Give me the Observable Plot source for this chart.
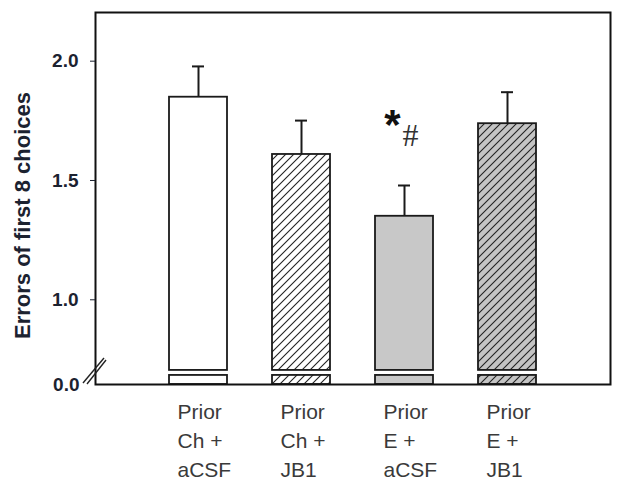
<!DOCTYPE html>
<html><head><meta charset="utf-8">
<script src="https://cdn.jsdelivr.net/npm/d3@7"></script>
<script src="https://cdn.jsdelivr.net/npm/@observablehq/plot@0.6"></script>
<style>body{margin:0;background:#fff;} svg{display:block;}</style>
</head><body><div id="chart"></div>
<script>
// ---- data ----
const groups = ["Prior Ch + aCSF", "Prior Ch + JB1", "Prior E + aCSF", "Prior E + JB1"];
const groupLabels = ["Prior\nCh +\naCSF", "Prior\nCh +\nJB1", "Prior\nE +\naCSF", "Prior\nE +\nJB1"];
const means = [1.849, 1.609, 1.35, 1.738];
const sems = [0.129, 0.142, 0.129, 0.132];
const yTicks = [1.0, 1.5, 2.0];
const yTitle = "Errors of first 8 choices";
const sigGroup = "Prior E + aCSF";
const sigSymbols = ["*", "#"];

// ---- broken-axis styling constants ----
const yBase = 0.645;    // where "0.0" is drawn
const stubTop = 0.683;  // top of the small stub above 0
const barFloor = 0.704; // bottom of the upper bar segment
const yTop = 2.204;

const rows = groups.map((g, i) => ({group: g, mean: means[i], hi: means[i] + sems[i]}));
const labelOf = new Map(groups.map((g, i) => [g, groupLabels[i]]));
const sig = rows.find(r => r.group === sigGroup);

const chart = Plot.plot({
  width: 621, height: 485,
  marginLeft: 95, marginRight: 11, marginTop: 12, marginBottom: 101,
  style: {fontFamily: "Liberation Sans, Arial, sans-serif", background: "white"},
  x: {domain: groups, paddingInner: 0.44, paddingOuter: 0.72, axis: null},
  y: {domain: [yBase, yTop], axis: null},
  color: {type: "ordinal", domain: groups, range: ["white", "url(#hatchW)", "#c8c8c8", "url(#hatchG)"]},
  marks: [
    Plot.barY(rows, {x: "group", y1: barFloor, y2: "mean", fill: "group", stroke: "#1a1a1a", strokeWidth: 1.8}),
    Plot.barY(rows, {x: "group", y1: yBase, y2: stubTop, fill: "group", stroke: "#1a1a1a", strokeWidth: 1.8}),
    Plot.ruleX(rows, {x: "group", y1: "mean", y2: "hi", stroke: "#1a1a1a", strokeWidth: 2}),
    Plot.tickY(rows, {x: "group", y: "hi", stroke: "#1a1a1a", strokeWidth: 2, insetLeft: 23, insetRight: 23}),
    Plot.frame({stroke: "#111", strokeWidth: 2}),
    Plot.axisY({ticks: yTicks, tickSize: 5, tickPadding: 12, tickFormat: d => d.toFixed(1),
      fontSize: 19, fontWeight: "bold", color: "#1c2230", label: null}),
    Plot.axisY({ticks: [yBase], tickSize: 0, tickPadding: 16, tickFormat: () => "0.0",
      fontSize: 19, fontWeight: "bold", color: "#1c2230", label: null}),
    Plot.axisX({tickSize: 0, tickPadding: 14, tickFormat: d => labelOf.get(d), fontSize: 21,
      lineHeight: 1.38, textAnchor: "start", dx: -21, color: "#3a3a3a", label: null}),
    Plot.text([yTitle], {frameAnchor: "left", textAnchor: "middle", rotate: -90, dx: -73, dy: 17, fontSize: 22,
      fontWeight: "bold", fill: "#1c2230"}),
    Plot.text([sig], {x: "group", y: "hi", text: () => sigSymbols[0], dx: -12, dy: -60,
      fontSize: 42, fontWeight: "bold", fill: "#111"}),
    Plot.text([sig], {x: "group", y: "hi", text: () => sigSymbols[1], dx: 6, dy: -50,
      fontSize: 32, fontFamily: "Liberation Serif, Times New Roman, serif", fill: "#333"})
  ]
});

// hatch patterns
const svg = d3.select(chart);
const defs = svg.insert("defs", ":first-child");
[["hatchW", "white"], ["hatchG", "#c4c4c4"]].forEach(([id, bg]) => {
  const p = defs.append("pattern").attr("id", id).attr("patternUnits", "userSpaceOnUse")
    .attr("width", 8).attr("height", 8);
  p.append("rect").attr("width", 8).attr("height", 8).attr("fill", bg);
  p.append("path").attr("d", "M-2,2 l4,-4 M0,8 l8,-8 M6,10 l4,-4")
    .attr("stroke", "#222").attr("stroke-width", 1.1);
});

// axis break marks, placed through the y scale
const ys = chart.scale("y");
const yb = ys.apply(yBase);
const xb = 95;
[[-12, -1, 9, -26], [-8, 0, 11, -24]].forEach(([x1, y1, x2, y2]) => {
  svg.append("line").attr("x1", xb + x1).attr("y1", yb + y1).attr("x2", xb + x2).attr("y2", yb + y2)
    .attr("stroke", "#222").attr("stroke-width", 1.4);
});

document.getElementById("chart").appendChild(chart);
</script>
</body></html>
